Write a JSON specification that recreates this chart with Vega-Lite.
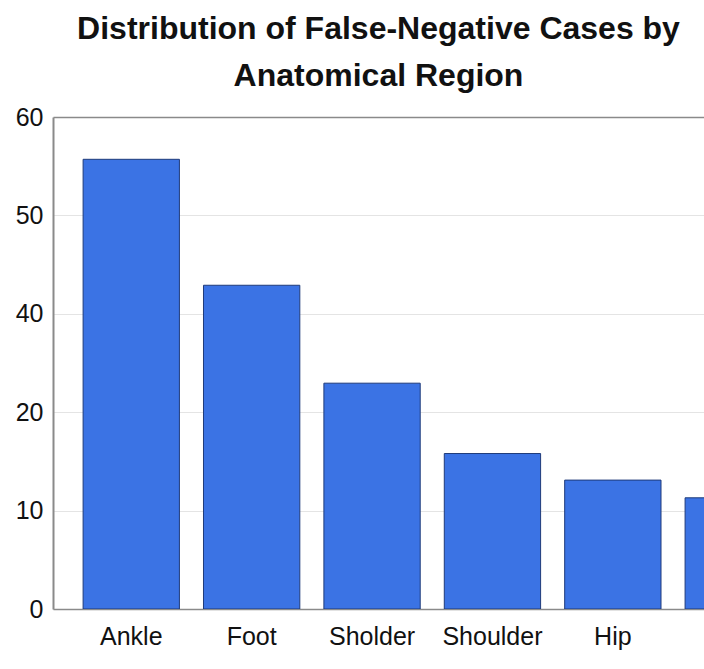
{
  "$schema": "https://vega.github.io/schema/vega-lite/v6.json",
  "width": 651,
  "height": 492,
  "autosize": {"type": "none"},
  "padding": {"left": 53, "top": 117, "right": 0, "bottom": 60},
  "background": "white",
  "title": {
    "text": ["Distribution of False-Negative Cases by", "Anatomical Region"],
    "font": "Liberation Sans",
    "fontSize": 32,
    "fontWeight": "bold",
    "color": "#111111",
    "anchor": "middle",
    "frame": "group",
    "lineHeight": 47,
    "offset": 12
  },
  "config": {
    "view": {"stroke": null},
    "font": "Liberation Sans"
  },
  "data": {
    "values": [
      {"region": "Ankle", "cases": 55.7},
      {"region": "Foot", "cases": 42.9},
      {"region": "Sholder", "cases": 25.9},
      {"region": "Shoulder", "cases": 15.8},
      {"region": "Hip", "cases": 13.1},
      {"region": "Knee", "cases": 11.3}
    ]
  },
  "mark": {"type": "bar", "color": "#3b73e4", "stroke": "#1f3b7a", "strokeWidth": 1, "clip": true},
  "encoding": {
    "x": {
      "field": "region",
      "type": "nominal",
      "sort": null,
      "scale": {"range": [0, 758.5], "paddingInner": 0.2, "paddingOuter": 0.25},
      "axis": {
        "title": null,
        "values": ["Ankle", "Foot", "Sholder", "Shoulder", "Hip"],
        "labelAngle": 0,
        "labelFontSize": 25,
        "labelColor": "#111111",
        "labelPadding": 15,
        "ticks": false,
        "domainColor": "#8a8a8a",
        "domainWidth": 1.5,
        "grid": false
      }
    },
    "y": {
      "field": "cases",
      "type": "quantitative",
      "scale": {
        "domain": [0, 10, 20, 40, 50, 60],
        "range": [492, 393.6, 295.2, 196.8, 98.4, 0],
        "nice": false,
        "zero": false
      },
      "axis": {
        "title": null,
        "values": [0, 10, 20, 40, 50, 60],
        "labelFontSize": 25,
        "labelColor": "#111111",
        "labelPadding": 10,
        "ticks": false,
        "domainColor": "#8a8a8a",
        "domainWidth": 2,
        "grid": true,
        "gridColor": {"condition": {"test": "datum.value == 60", "value": "#8a8a8a"}, "value": "#e4e4e4"},
        "gridWidth": {"condition": {"test": "datum.value == 60", "value": 1.5}, "value": 1}
      }
    }
  }
}
